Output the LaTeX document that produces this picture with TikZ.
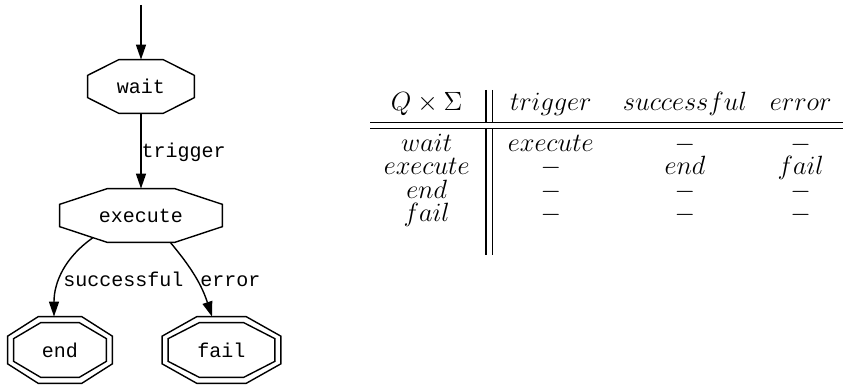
\RequirePackage{fix-cm}
\documentclass[tikz,border=0pt]{standalone}
\usepackage{fontspec}
\setmonofont{Liberation Mono}
\usepackage{tikz}
\usetikzlibrary{arrows.meta,positioning,calc}
% Achteck um einen Knoten, #2 = Abstand nach aussen
\newcommand{\octagon}[2]{%
  \coordinate (#1-nw) at ($(#1.north west)+(-#2,#2)$);
  \coordinate (#1-ne) at ($(#1.north east)+(#2,#2)$);
  \coordinate (#1-se) at ($(#1.south east)+(#2,-#2)$);
  \coordinate (#1-sw) at ($(#1.south west)+(-#2,-#2)$);
  \coordinate (#1-t1) at ($(#1-nw)!.293!(#1-ne)$);
  \coordinate (#1-t2) at ($(#1-nw)!.707!(#1-ne)$);
  \coordinate (#1-r1) at ($(#1-ne)!.293!(#1-se)$);
  \coordinate (#1-r2) at ($(#1-ne)!.707!(#1-se)$);
  \coordinate (#1-b2) at ($(#1-sw)!.707!(#1-se)$);
  \coordinate (#1-b1) at ($(#1-sw)!.293!(#1-se)$);
  \coordinate (#1-l2) at ($(#1-nw)!.707!(#1-sw)$);
  \coordinate (#1-l1) at ($(#1-nw)!.293!(#1-sw)$);
  \draw[stateline] (#1-t1) -- (#1-t2) -- (#1-r1) -- (#1-r2) -- (#1-b2) -- (#1-b1) -- (#1-l2) -- (#1-l1) -- cycle;}

\begin{document}
\begin{tikzpicture}[
      x=0.5pt, y=-0.5pt,
      state/.style = {rectangle, draw=none, inner sep=0pt, font=\ttfamily\fontsize{10}{12}\selectfont},
      stateline/.style = {line width=0.7pt},
      edge/.style = {line width=0.7pt, -{Triangle[length=7.5pt, width=5pt]}},
      edgelabel/.style = {inner sep=0pt, font=\ttfamily\fontsize{10}{12}\selectfont},
      cell/.style = {anchor=base, inner sep=0pt, font=\fontsize{13.2}{16}\selectfont},
      tabrule/.style = {line width=0.6pt},
  ]
  \useasboundingbox (0,0) rectangle (843,385);
  % ┌───────────┐
  % │ Automat   │
  % └───────────┘
  \node[state, minimum width=53pt, minimum height=26.5pt] (wait) at (141,86.5) {wait};
  \node[state, minimum width=81pt, minimum height=26.5pt] (execute) at (141,215.5) {execute};
  \node[state, minimum width=46pt, minimum height=27pt] (end) at (60,350) {end};
  \node[state, minimum width=53pt, minimum height=27pt] (fail) at (221.5,350) {fail};
  \octagon{wait}{0pt}
  \octagon{execute}{0pt}
  \octagon{end}{0pt}
  \octagon{fail}{0pt}
  % Endzustaende doppelt
  \octagon{end}{3pt}
  \octagon{fail}{3pt}
  \coordinate (start) at (141,5);
  \draw[edge] (start) -- (wait);
  \draw[edge] (wait) -- node[edgelabel, pos=.59, anchor=base west] (ltrigger) {trigger} (execute);
  \draw[edge] ($(execute-l2)!.7!(execute-b1)$) to[out=215, in=90] ($(end.north)+(-3pt,3pt)$);
  \draw[edge] ($(execute.south west)!.68!(execute.south east)$) to[out=-50, in=108] ($(fail.north)+(-4.75pt,3pt)$);
  \node[edgelabel, anchor=base west] (lsuccessful) at (63,287) {successful};
  \node[edgelabel, anchor=base west] (lerror) at (200,287) {error};
  % ┌─────────────────────┐
  % │ Uebergangsfunktion  │
  % └─────────────────────┘
  \node[cell] (head-0) at (426.7,110.7) {$Q \times \Sigma$};
  \node[cell] (head-1) at (550.8,110.7) {$trigger$};
  \node[cell] (head-2) at (685,110.7) {$successful$};
  \node[cell] (head-3) at (800.7,110.7) {$error$};
  \foreach \q/\a/\b/\c [count=\i] in {wait/execute/-/-, execute/-/end/fail, end/-/-/-, fail/-/-/-} {
    \node[cell] (row\i-0) at (426.7,{128.4+23.3*\i}) {$\q$};
    \node[cell] (row\i-1) at (550.8,{128.4+23.3*\i}) {$\a$};
    \node[cell] (row\i-2) at (685,{128.4+23.3*\i}) {$\b$};
    \node[cell] (row\i-3) at (800.7,{128.4+23.3*\i}) {$\c$};
  }
  \draw[tabrule] (370,122.3) -- (843,122.3);
  \draw[tabrule] (370,128.7) -- (843,128.7);
  \foreach \x in {486,492.7} {
    \draw[tabrule] (\x,90) -- (\x,122.3);
    \draw[tabrule] (\x,128.7) -- (\x,255);
  }
\end{tikzpicture}
\end{document}
